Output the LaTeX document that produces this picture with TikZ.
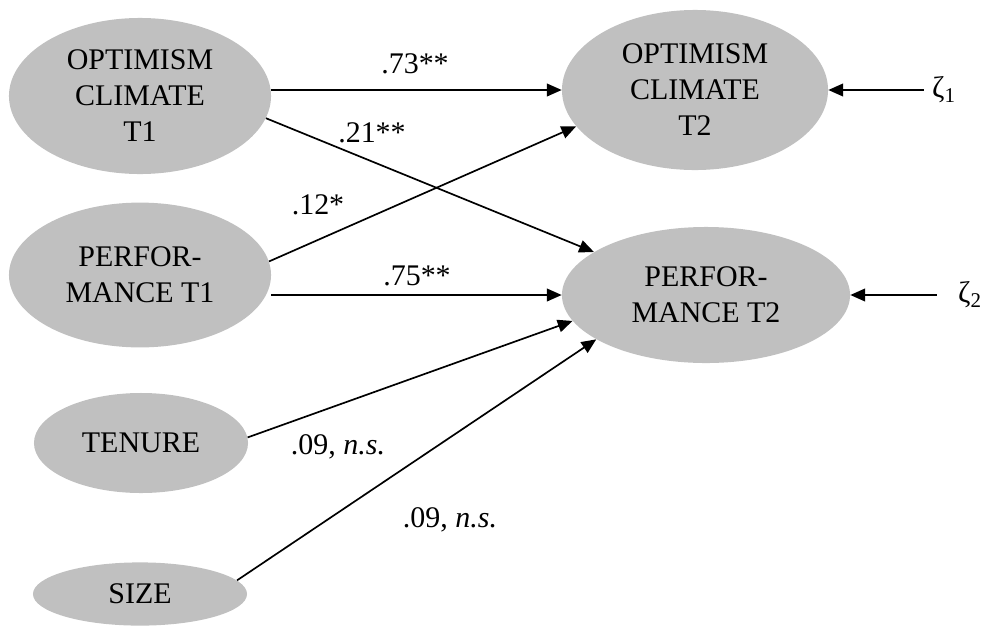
\documentclass[tikz,border=0pt]{standalone}
\usepackage{fontspec}
\setmainfont{Liberation Serif}
\usetikzlibrary{shapes.geometric,arrows.meta}
\definecolor{ovalgray}{RGB}{192,192,192}
\tikzset{
  latent/.style={ellipse,fill=ovalgray,inner sep=0pt,align=center,
    font=\fontsize{21.3}{25.6}\selectfont},
  coef/.style={inner sep=0pt,font=\fontsize{21.3}{25.6}\selectfont},
  zeta/.style={inner sep=0pt,inner xsep=6pt,font=\fontsize{21.3}{25.6}\selectfont},
  effect/.style={draw,line width=1.2pt,-{Triangle[length=10.5pt,width=9pt]}}
}
\begin{document}
\begin{tikzpicture}[x=0.025cm,y=-0.025cm]
\useasboundingbox (0,0) rectangle (984,625);
\node[latent,minimum width=6.55cm,minimum height=3.9cm] (opt1) at (140,96) {OPTIMISM\\CLIMATE\\T1};
\node[latent,minimum width=6.55cm,minimum height=3.62cm] (perf1) at (140,275) {PERFOR-\\MANCE T1};
\node[latent,minimum width=5.35cm,minimum height=2.5cm] (ten) at (141,443) {TENURE};
\node[latent,minimum width=5.35cm,minimum height=1.58cm] (size) at (140,594) {SIZE};
\node[latent,minimum width=6.65cm,minimum height=4.0cm] (opt2) at (695,90) {OPTIMISM\\CLIMATE\\T2};
\node[latent,minimum width=7.2cm,minimum height=3.4cm] (perf2) at (706,295) {PERFOR-\\MANCE T2};
\node[zeta] (z1) at (944,90) {ζ\textsubscript{1}};
\node[zeta,inner xsep=15pt] (z2) at (970,295) {ζ\textsubscript{2}};
\draw[effect] (opt1.east |- opt2) -- (opt2.west);
\draw[effect] (opt1.-10) -- (perf2.159);
\draw[effect] (perf1.6) -- (opt2.197);
\draw[effect] (perf1.east |- perf2) -- (perf2.west);
\draw[effect] (ten.3) -- (perf2.191);
\draw[effect] (size.8) -- (perf2.202);
\draw[effect] (z1) -- (opt2);
\draw[effect] (z2) -- (perf2);
\node[coef] (c73) at (415,64) {.73**};
\node[coef] (c21) at (372,133) {.21**};
\node[coef] (c12) at (318,205) {.12*};
\node[coef] (c75) at (417,276) {.75**};
\node[coef] (c09a) at (338,447) {.09, \textit{n.s.}};
\node[coef] (c09b) at (450,520) {.09, \textit{n.s.}};
\end{tikzpicture}
\end{document}
